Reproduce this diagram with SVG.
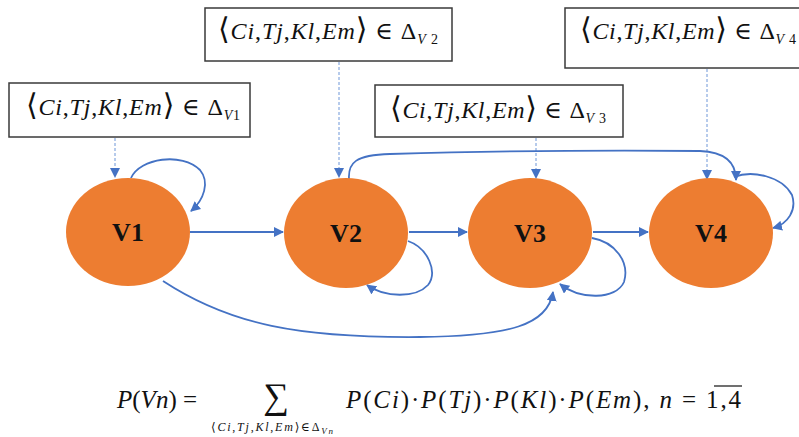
<svg xmlns="http://www.w3.org/2000/svg" width="799" height="437" viewBox="0 0 799 437">
<style>
.box{fill:#fff;stroke:#3a3a3a;stroke-width:1.5}
.bt{font-family:"Liberation Serif","Times New Roman","DejaVu Serif",serif;font-size:24px;fill:#111}
.it{font-style:italic}
.big{font-size:30px;font-style:normal}
.sub{font-size:14px}
.node{fill:#ED7D31}
.lbl{font-family:"Liberation Serif","Times New Roman","DejaVu Serif",serif;font-size:26px;font-weight:bold;fill:#111;text-anchor:middle}
.edge{fill:none;stroke:#4472C4;stroke-width:1.8}
.dash{fill:none;stroke:#6F97D8;stroke-width:1;stroke-dasharray:3 2}
.fm{font-family:"Liberation Serif","Times New Roman","DejaVu Serif",serif;fill:#111}
</style>
<defs>
<marker id="ah" viewBox="0 0 10 10" refX="9" refY="5" markerWidth="10" markerHeight="10" markerUnits="userSpaceOnUse" orient="auto">
<path d="M0,0 L10,5 L0,10 z" fill="#4472C4"/>
</marker>
</defs>

<g id="box-v1">
<rect class="box" x="9" y="83" width="241" height="54"/>
<text class="bt" x="26" y="115" textLength="214"><tspan class="big">⟨</tspan><tspan class="it">Ci</tspan>,<tspan class="it">Tj</tspan>,<tspan class="it">Kl</tspan>,<tspan class="it">Em</tspan><tspan class="big">⟩</tspan> ∈ Δ<tspan dy="5" class="sub"><tspan class="it">V</tspan>1</tspan></text>
</g>
<g id="box-v2">
<rect class="box" x="205" y="8" width="247" height="53"/>
<text class="bt" x="218" y="39" textLength="220"><tspan class="big">⟨</tspan><tspan class="it">Ci</tspan>,<tspan class="it">Tj</tspan>,<tspan class="it">Kl</tspan>,<tspan class="it">Em</tspan><tspan class="big">⟩</tspan> ∈ Δ<tspan dy="5" class="sub"><tspan class="it">V</tspan> 2</tspan></text>
</g>
<g id="box-v3">
<rect class="box" x="375" y="85" width="248" height="52"/>
<text class="bt" x="390" y="118" textLength="216"><tspan class="big">⟨</tspan><tspan class="it">Ci</tspan>,<tspan class="it">Tj</tspan>,<tspan class="it">Kl</tspan>,<tspan class="it">Em</tspan><tspan class="big">⟩</tspan> ∈ Δ<tspan dy="5" class="sub"><tspan class="it">V</tspan> 3</tspan></text>
</g>
<g id="box-v4">
<rect class="box" x="565" y="8" width="240" height="60"/>
<text class="bt" x="580" y="39" textLength="216"><tspan class="big">⟨</tspan><tspan class="it">Ci</tspan>,<tspan class="it">Tj</tspan>,<tspan class="it">Kl</tspan>,<tspan class="it">Em</tspan><tspan class="big">⟩</tspan> ∈ Δ<tspan dy="5" class="sub"><tspan class="it">V</tspan> 4</tspan></text>
</g>

<g id="connectors">
<path class="dash" d="M115,138 L115,177" marker-end="url(#ah)"/>
<path class="dash" d="M339,62 L339,177" marker-end="url(#ah)"/>
<path class="dash" d="M536,138 L536,178" marker-end="url(#ah)"/>
<path class="dash" d="M707,69 L707,179" marker-end="url(#ah)"/>
<path class="edge" d="M190,232 L283,232" marker-end="url(#ah)"/>
<path class="edge" d="M409,232 L467,232" marker-end="url(#ah)"/>
<path class="edge" d="M593,232 L648,232" marker-end="url(#ah)"/>
<path class="edge" d="M131,178 C140,158 182,152 200,170 C210,182 204,200 191,211" marker-end="url(#ah)"/>
<path class="edge" d="M408,241 C428,248 438,272 428,285 C416,298 385,298 367,285" marker-end="url(#ah)"/>
<path class="edge" d="M592,238 C615,242 630,262 624,282 C616,300 580,300 560,284" marker-end="url(#ah)"/>
<path class="edge" d="M734,177 C752,170 782,176 792,195 C797,210 788,224 773,228" marker-end="url(#ah)"/>
<path class="edge" d="M349,179 C348,163 355,155 390,154 C500,151 620,150 700,151 C725,152 736,162 736,180" marker-end="url(#ah)"/>
<path class="edge" d="M163,281 C230,325 300,338 420,337 C510,336 548,325 553,292" marker-end="url(#ah)"/>
</g>

<g id="v1"><ellipse class="node" cx="128" cy="232" rx="62" ry="54"/><text class="lbl" x="128" y="241">V1</text></g>
<g id="v2"><ellipse class="node" cx="346" cy="233" rx="62" ry="55"/><text class="lbl" x="346" y="242">V2</text></g>
<g id="v3"><ellipse class="node" cx="530" cy="233" rx="62" ry="55"/><text class="lbl" x="530" y="242">V3</text></g>
<g id="v4"><ellipse class="node" cx="711" cy="233" rx="62" ry="55"/><text class="lbl" x="711" y="242">V4</text></g>

<g id="formula">
<text class="fm" style="font-size:25px" x="117" y="408"><tspan class="it">P</tspan>(<tspan class="it">Vn</tspan>) =</text>
<text class="fm" style="font-size:36px" x="276" y="408" text-anchor="middle">∑</text>
<text class="fm" style="font-size:12px" x="211" y="431" textLength="122">⟨<tspan class="it">Ci</tspan>,<tspan class="it">Tj</tspan>,<tspan class="it">Kl</tspan>,<tspan class="it">Em</tspan>⟩∈Δ<tspan dy="3" style="font-size:9px" class="it">Vn</tspan></text>
<text class="fm" style="font-size:25px" x="346" y="408" textLength="395"><tspan class="it">P</tspan>(<tspan class="it">Ci</tspan>)·<tspan class="it">P</tspan>(<tspan class="it">Tj</tspan>)·<tspan class="it">P</tspan>(<tspan class="it">Kl</tspan>)·<tspan class="it">P</tspan>(<tspan class="it">Em</tspan>), <tspan class="it">n</tspan> = 1,4</text>
<line x1="714" y1="386" x2="742" y2="386" stroke="#111" stroke-width="1.2"/>
</g>
</svg>
